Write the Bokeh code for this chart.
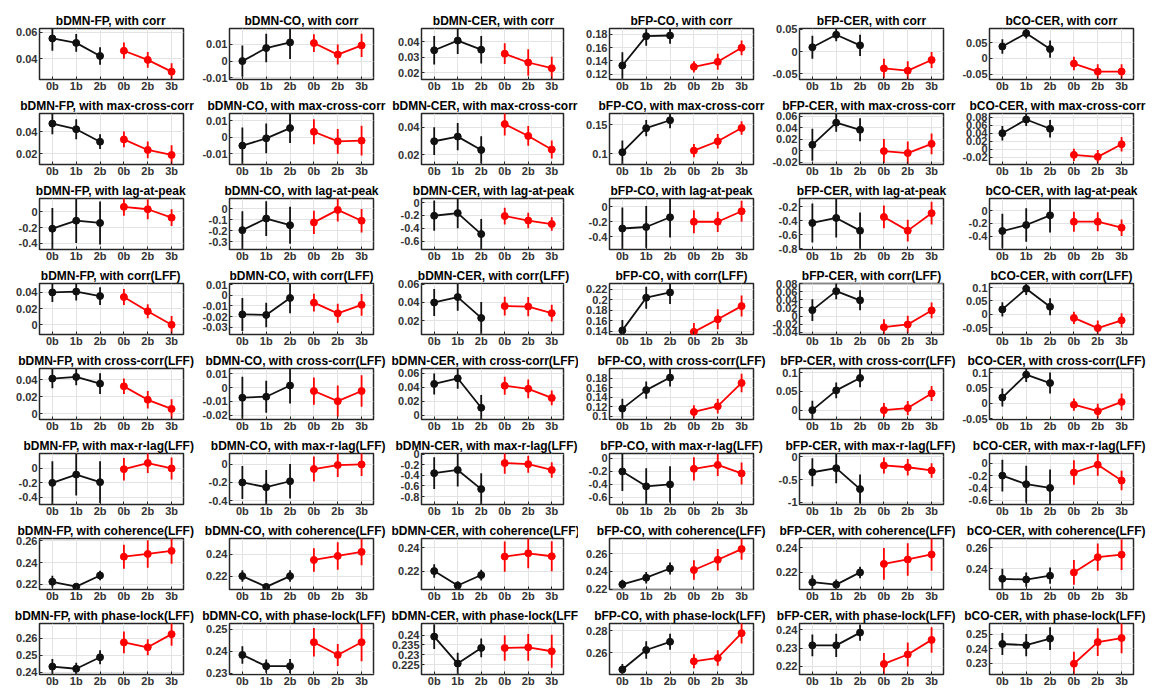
from bokeh.plotting import figure
from bokeh.layouts import gridplot, column, row
from bokeh.models import Range1d, FixedTicker, CustomJSTickFormatter, Spacer
from bokeh.embed import file_html
from bokeh.resources import INLINE

# ---------------- data ----------------
pairs = ["bDMN-FP", "bDMN-CO", "bDMN-CER", "bFP-CO", "bFP-CER", "bCO-CER"]
metrics = ["corr", "max-cross-corr", "lag-at-peak", "corr(LFF)", "cross-corr(LFF)",
           "max-r-lag(LFF)", "coherence(LFF)", "phase-lock(LFF)"]
x_labels = ["0b", "1b", "2b", "0b", "2b", "3b"]

corr_blk = [[0.0554, 0.052, 0.042], [0.0, 0.0078, 0.0112], [0.0346, 0.0409, 0.035],
            [0.133, 0.177, 0.178], [0.0097, 0.038, 0.014], [0.0375, 0.079, 0.0295]]
corr_blk_err = [[0.0095, 0.0068, 0.0067], [0.0094, 0.0085, 0.01], [0.0092, 0.0087, 0.0089],
                [0.02, 0.0145, 0.0125], [0.026, 0.015, 0.024], [0.023, 0.016, 0.027]]
corr_red = [[0.046, 0.039, 0.030], [0.0108, 0.0039, 0.0094], [0.0324, 0.0267, 0.023],
            [0.131, 0.1385, 0.1595], [-0.038, -0.043, -0.019], [-0.016, -0.041, -0.041]]
corr_red_err = [[0.0062, 0.006, 0.0064], [0.0053, 0.006, 0.0069], [0.0067, 0.0085, 0.0074],
                [0.0085, 0.012, 0.011], [0.022, 0.021, 0.018], [0.021, 0.023, 0.023]]
corr_ylim = [(0.024, 0.063), (-0.011, 0.0195), (0.0157, 0.0487), (0.112, 0.1885),
             (-0.063, 0.052), (-0.066, 0.094)]
corr_yticks = [[0.04, 0.06], [-0.01, 0, 0.01], [0.02, 0.03, 0.04], [0.12, 0.14, 0.16, 0.18],
               [-0.05, 0, 0.05], [-0.05, 0, 0.05]]

mcc_blk = [[0.0477, 0.0425, 0.031], [-0.005, -0.0006, 0.0056], [0.0298, 0.0332, 0.0234],
           [0.103, 0.144, 0.1575], [0.0104, 0.049, 0.0365], [0.040, 0.074, 0.051]]
mcc_blk_err = [[0.0099, 0.0092, 0.0068], [0.011, 0.009, 0.009], [0.0102, 0.01, 0.01],
               [0.02, 0.014, 0.0135], [0.028, 0.016, 0.02], [0.018, 0.016, 0.022]]
mcc_red = [[0.0331, 0.0234, 0.0188], [0.0034, -0.0024, -0.002], [0.0424, 0.0337, 0.0237],
           [0.1057, 0.1216, 0.1443], [-0.0006, -0.004, 0.012], [-0.014, -0.019, 0.0124]]
mcc_red_err = [[0.0072, 0.0077, 0.009], [0.0076, 0.0075, 0.009], [0.0083, 0.0073, 0.0066],
               [0.0114, 0.0125, 0.0114], [0.021, 0.02, 0.018], [0.015, 0.017, 0.018]]
mcc_ylim = [(0.010, 0.057), (-0.0164, 0.0144), (0.0127, 0.0502), (0.082, 0.169),
            (-0.024, 0.065), (-0.038, 0.089)]
mcc_yticks = [[0.02, 0.04], [-0.01, 0, 0.01], [0.02, 0.04], [0.1, 0.15],
              [-0.02, 0, 0.02, 0.04, 0.06], [-0.02, 0, 0.02, 0.04, 0.06, 0.08]]

lag_blk = [[-0.215, -0.114, -0.143], [-0.195, -0.09, -0.15], [-0.205, -0.164, -0.49],
           [-0.29, -0.27, -0.14], [-0.43, -0.358, -0.54], [-0.32, -0.226, -0.074]]
lag_blk_err = [[0.26, 0.28, 0.27], [0.17, 0.157, 0.167], [0.235, 0.235, 0.235],
               [0.28, 0.28, 0.27], [0.28, 0.28, 0.26], [0.27, 0.263, 0.27]]
lag_red = [[0.059, 0.029, -0.076], [-0.125, -0.012, -0.11], [-0.21, -0.28, -0.335],
           [-0.2, -0.2, -0.06], [-0.344, -0.54, -0.29], [-0.174, -0.174, -0.268]]
lag_red_err = [[0.11, 0.126, 0.105], [0.106, 0.106, 0.106], [0.13, 0.12, 0.105],
               [0.153, 0.135, 0.14], [0.163, 0.155, 0.163], [0.158, 0.15, 0.13]]
lag_ylim = [(-0.476, 0.164), (-0.37, 0.091), (-0.73, 0.063), (-0.57, 0.11),
            (-0.81, -0.08), (-0.61, 0.19)]
lag_yticks = [[-0.4, -0.2, 0], [-0.3, -0.2, -0.1, 0], [-0.6, -0.4, -0.2, 0], [-0.4, -0.2, 0],
              [-0.8, -0.6, -0.4, -0.2], [-0.4, -0.2, 0]]

clff_blk = [[0.04, 0.041, 0.0355], [-0.018, -0.0185, -0.0025], [0.04, 0.046, 0.0229],
            [0.1418, 0.204, 0.214], [0.0147, 0.062, 0.0392], [0.018, 0.0955, 0.028]]
clff_blk_err = [[0.012, 0.011, 0.011], [0.0156, 0.0116, 0.0144], [0.015, 0.015, 0.0176],
                [0.02, 0.021, 0.022], [0.027, 0.02, 0.025], [0.027, 0.024, 0.032]]
clff_red = [[0.0343, 0.0167, 0.0], [-0.0069, -0.017, -0.009], [0.036, 0.0355, 0.0282],
            [0.139, 0.163, 0.188], [-0.0278, -0.021, 0.0139], [-0.014, -0.052, -0.023]]
clff_red_err = [[0.0098, 0.0086, 0.011], [0.0084, 0.009, 0.0103], [0.0104, 0.0107, 0.0092],
                [0.017, 0.019, 0.02], [0.02, 0.022, 0.0196], [0.023, 0.028, 0.027]]
clff_ylim = [(-0.012, 0.051), (-0.037, 0.0112), (0.0046, 0.061), (0.134, 0.231),
             (-0.046, 0.081), (-0.076, 0.115)]
clff_yticks = [[0, 0.02, 0.04], [-0.03, -0.02, -0.01, 0, 0.01], [0.02, 0.04, 0.06],
               [0.14, 0.16, 0.18, 0.2, 0.22], [-0.04, -0.02, 0, 0.02, 0.04, 0.06, 0.08],
               [-0.05, 0, 0.05, 0.1]]

cc_blk = [[0.0416, 0.0436, 0.0356], [-0.0073, -0.0066, 0.0015], [0.045, 0.053, 0.011],
          [0.116, 0.155, 0.1814], [0.0, 0.0527, 0.0857], [0.019, 0.093, 0.066]]
cc_blk_err = [[0.0116, 0.01, 0.0124], [0.015, 0.0115, 0.013], [0.015, 0.015, 0.018],
              [0.021, 0.018, 0.019], [0.025, 0.021, 0.025], [0.029, 0.024, 0.034]]
cc_red = [[0.0324, 0.0164, 0.0056], [-0.0025, -0.0098, -0.0025], [0.0424, 0.038, 0.025],
          [0.109, 0.121, 0.17], [0.0, 0.0054, 0.0446], [-0.004, -0.025, 0.005]]
cc_red_err = [[0.0092, 0.0104, 0.0116], [0.0098, 0.0113, 0.0113], [0.013, 0.0134, 0.0106],
              [0.014, 0.0156, 0.0195], [0.019, 0.019, 0.02], [0.02, 0.024, 0.027]]
cc_ylim = [(-0.007, 0.0536), (-0.023, 0.0137), (-0.0058, 0.067), (0.093, 0.2005),
           (-0.025, 0.111), (-0.052, 0.113)]
cc_yticks = [[0, 0.02, 0.04], [-0.02, -0.01, 0, 0.01], [0, 0.02, 0.04, 0.06],
             [0.1, 0.12, 0.14, 0.16, 0.18], [0, 0.05, 0.1], [-0.05, 0, 0.05, 0.1]]

mrl_blk = [[-0.2, -0.085, -0.19], [-0.2, -0.252, -0.187], [-0.36, -0.3, -0.66],
           [-0.2, -0.43, -0.4], [-0.34, -0.25, -0.71], [-0.2, -0.34, -0.4]]
mrl_blk_err = [[0.3, 0.29, 0.29], [0.18, 0.187, 0.187], [0.3, 0.31, 0.3],
               [0.3, 0.28, 0.28], [0.31, 0.33, 0.32], [0.26, 0.3, 0.3]]
mrl_red = [[-0.01, 0.075, 0.0], [-0.054, -0.011, -0.004], [-0.17, -0.19, -0.3],
           [-0.16, -0.1, -0.23], [-0.19, -0.23, -0.3], [-0.15, -0.023, -0.28]]
mrl_red_err = [[0.156, 0.14, 0.153], [0.137, 0.13, 0.126], [0.2, 0.16, 0.145],
               [0.18, 0.17, 0.17], [0.175, 0.18, 0.16], [0.2, 0.18, 0.16]]
mrl_ylim = [(-0.5, 0.207), (-0.44, 0.115), (-0.95, 0.01), (-0.71, 0.077),
            (-1.05, 0.073), (-0.67, 0.16)]
mrl_yticks = [[-0.4, -0.2, 0], [-0.4, -0.2, 0], [-0.8, -0.6, -0.4, -0.2, 0],
              [-0.6, -0.4, -0.2, 0], [-1, -0.5, 0], [-0.6, -0.4, -0.2, 0]]

coh_blk = [[0.2225, 0.218, 0.2283], [0.22, 0.2101, 0.22], [0.22, 0.2077, 0.2166],
           [0.2256, 0.233, 0.2433], [0.2117, 0.2097, 0.2197], [0.2302, 0.2295, 0.2332]]
coh_blk_err = [[0.0056, 0.003, 0.0043], [0.0053, 0.003, 0.0053], [0.0057, 0.0037, 0.0046],
               [0.0052, 0.0064, 0.0067], [0.0056, 0.0042, 0.0047], [0.0095, 0.0068, 0.0077]]
coh_red = [[0.2455, 0.248, 0.2508], [0.2348, 0.2385, 0.2422], [0.2323, 0.2351, 0.2326],
           [0.2416, 0.253, 0.265], [0.2267, 0.2303, 0.2344], [0.2363, 0.2508, 0.2532]]
coh_red_err = [[0.011, 0.0126, 0.0117], [0.0108, 0.0126, 0.0123], [0.0128, 0.0128, 0.0128],
               [0.011, 0.012, 0.012], [0.013, 0.0133, 0.0133], [0.0118, 0.013, 0.0147]]
coh_ylim = [(0.2154, 0.2622), (0.2077, 0.2545), (0.2043, 0.2477), (0.2198, 0.2768),
            (0.2057, 0.2475), (0.220, 0.2686)]
coh_yticks = [[0.22, 0.24, 0.26], [0.22, 0.24], [0.22, 0.24], [0.22, 0.24, 0.26],
              [0.22, 0.24], [0.24, 0.26]]

pl_blk = [[0.2433, 0.242, 0.2488], [0.2383, 0.2332, 0.2332], [0.2393, 0.2255, 0.2335],
          [0.2451, 0.2627, 0.2701], [0.2315, 0.2315, 0.2385], [0.2433, 0.2425, 0.247]]
pl_blk_err = [[0.0045, 0.0035, 0.0041], [0.004, 0.003, 0.0032], [0.0063, 0.0055, 0.0048],
              [0.005, 0.0078, 0.0072], [0.006, 0.0064, 0.0045], [0.0076, 0.0076, 0.0079]]
pl_red = [[0.2576, 0.2547, 0.2625], [0.2441, 0.2383, 0.2441], [0.2335, 0.2338, 0.2318],
          [0.2525, 0.2555, 0.2779], [0.2213, 0.2265, 0.2345], [0.2297, 0.2446, 0.2474]]
pl_red_err = [[0.0064, 0.0047, 0.0069], [0.0065, 0.005, 0.0087], [0.0065, 0.0068, 0.0085],
              [0.0063, 0.0069, 0.0093], [0.006, 0.0066, 0.007], [0.0083, 0.0095, 0.0104]]
pl_ylim = [(0.2386, 0.2688), (0.2294, 0.2526), (0.2199, 0.246), (0.2406, 0.2866),
           (0.2155, 0.2435), (0.2223, 0.2574)]
pl_yticks = [[0.24, 0.25, 0.26], [0.23, 0.24, 0.25], [0.225, 0.23, 0.235, 0.24],
             [0.26, 0.28], [0.22, 0.23, 0.24], [0.23, 0.24, 0.25]]

rows = [
    (corr_blk, corr_blk_err, corr_red, corr_red_err, corr_ylim, corr_yticks),
    (mcc_blk, mcc_blk_err, mcc_red, mcc_red_err, mcc_ylim, mcc_yticks),
    (lag_blk, lag_blk_err, lag_red, lag_red_err, lag_ylim, lag_yticks),
    (clff_blk, clff_blk_err, clff_red, clff_red_err, clff_ylim, clff_yticks),
    (cc_blk, cc_blk_err, cc_red, cc_red_err, cc_ylim, cc_yticks),
    (mrl_blk, mrl_blk_err, mrl_red, mrl_red_err, mrl_ylim, mrl_yticks),
    (coh_blk, coh_blk_err, coh_red, coh_red_err, coh_ylim, coh_yticks),
    (pl_blk, pl_blk_err, pl_red, pl_red_err, pl_ylim, pl_yticks),
]

# ---------------- style ----------------
FONT = "Liberation Sans"
BLACK = "#111111"
RED = "#ff0000"
AXIS_C = "#262626"
GRID_C = "#e3e3e3"
FIG_W, FIG_H = 190, 85
B_LEFT, B_RIGHT, B_TOP, B_BOTTOM = 31, 15, 19, 14
FRAME_W = FIG_W - B_LEFT - B_RIGHT
TITLE_PX = 12

# Helvetica-Bold advance widths (per em) to keep long titles inside the canvas
HB = {" ": .278, "(": .333, ")": .333, ",": .278, "-": .333,
      "a": .556, "b": .611, "c": .556, "e": .556, "g": .611, "h": .611, "i": .278,
      "k": .556, "l": .278, "m": .889, "n": .611, "o": .611, "p": .611, "r": .389,
      "s": .556, "t": .333, "w": .778, "x": .556,
      "C": .722, "D": .722, "E": .667, "F": .611, "L": .611, "M": .833, "N": .722,
      "O": .778, "P": .667, "R": .722}


def text_width(s, px):
    return sum(HB.get(ch, .556) for ch in s) * px


x_pos = list(range(1, len(x_labels) + 1))
x_black = x_pos[:3]
x_red = x_pos[3:]
tick_fmt = "return String(parseFloat(tick.toFixed(6)));"

grid = []
for r, (blk, blk_e, red, red_e, ylims, yticks) in enumerate(rows):
    row_figs = []
    for c, pair in enumerate(pairs):
        title = f"{pair}, with {metrics[r]}"
        p = figure(width=FIG_W, height=FIG_H, output_backend="svg", toolbar_location=None,
                   x_range=Range1d(0.46, 6.5), y_range=Range1d(*ylims[c]),
                   min_border_left=B_LEFT, min_border_right=B_RIGHT,
                   min_border_top=B_TOP, min_border_bottom=B_BOTTOM,
                   background_fill_color="white", border_fill_color="white")
        p.title.text = title
        p.title.text_font = FONT
        p.title.text_font_size = f"{TITLE_PX}px"
        p.title.text_font_style = "bold"
        p.title.text_color = "#000000"
        p.title.standoff = 2
        w = text_width(title, TITLE_PX)
        off = (FRAME_W - w) / 2
        off = max(-B_LEFT + 1, min(off, FRAME_W + B_RIGHT - 3 - w))
        p.title.align = "left"
        p.title.offset = off

        xt = FixedTicker(ticks=x_pos)
        yt = FixedTicker(ticks=yticks[c])
        p.xaxis.ticker = xt
        p.yaxis.ticker = yt
        p.xgrid.ticker = xt
        p.ygrid.ticker = yt
        p.xaxis.major_label_overrides = {x: lab for x, lab in zip(x_pos, x_labels)}
        p.yaxis.formatter = CustomJSTickFormatter(code=tick_fmt)
        for ax in (p.xaxis, p.yaxis):
            ax.axis_line_color = None
            ax.major_tick_in = 3
            ax.major_tick_out = 0
            ax.major_tick_line_color = AXIS_C
            ax.minor_tick_line_color = None
            ax.major_label_text_font = FONT
            ax.major_label_text_font_style = "bold"
            ax.major_label_text_font_size = "11px"
            ax.major_label_text_color = "#333333"
        p.xaxis.major_label_standoff = 0
        p.yaxis.major_label_standoff = 2
        p.xgrid.grid_line_color = GRID_C
        p.ygrid.grid_line_color = GRID_C
        p.outline_line_color = AXIS_C
        p.outline_line_width = 1.5
        p.outline_line_alpha = 1.0

        for xs, ms, es, col in ((x_black, blk[c], blk_e[c], BLACK),
                                (x_red, red[c], red_e[c], RED)):
            lo = [m - e for m, e in zip(ms, es)]
            hi = [m + e for m, e in zip(ms, es)]
            p.segment(x0=xs, y0=lo, x1=xs, y1=hi, line_color=col, line_width=1.8)
            p.line(xs, ms, line_color=col, line_width=1.8)
            p.scatter(xs, ms, size=7, fill_color=col, line_color=col)
        row_figs.append(p)
    grid.append(row_figs)

panel_grid = gridplot(grid, toolbar_location=None)
layout = column(Spacer(height=9), row(Spacer(width=8), panel_grid))

with open("out.html", "w") as f:
    f.write(file_html(layout, INLINE))
